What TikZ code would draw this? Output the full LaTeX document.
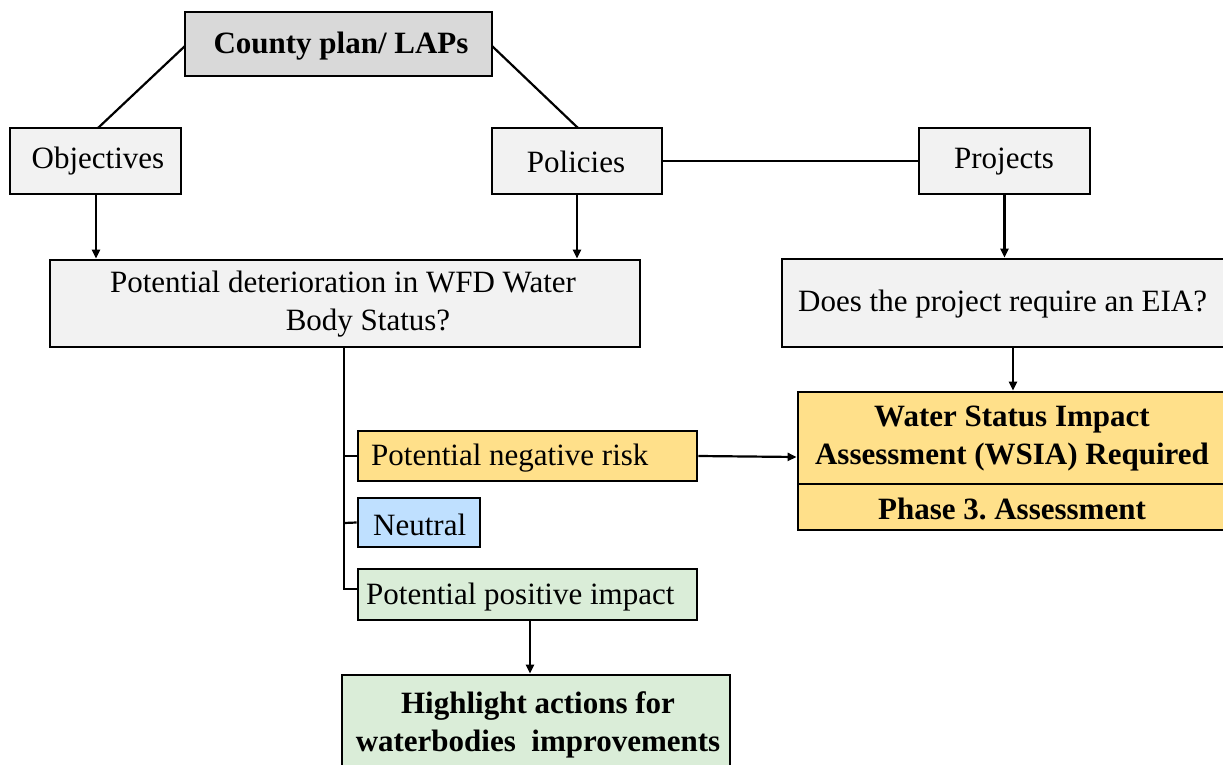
\documentclass[tikz,border=0pt]{standalone}
\usepackage{fontspec}
\setmainfont{Liberation Serif}
\usetikzlibrary{arrows.meta,positioning}
\definecolor{gtop}{HTML}{D9D9D9}
\definecolor{glight}{HTML}{F2F2F2}
\definecolor{yel}{HTML}{FFE08A}
\definecolor{blu}{HTML}{BFE0FF}
\definecolor{grn}{HTML}{DAEDD8}
\newcommand{\fs}{\fontsize{31}{38}\selectfont}
\tikzset{
  box/.style={draw=black, line width=2.8pt, inner sep=0pt, align=center},
  txt/.style={font=\fs, align=center, inner sep=0pt},
  btxt/.style={font=\bfseries\fs, align=center, inner sep=0pt},
  conn/.style={line width=2.2pt},
  arr/.style={line width=2.2pt, -{Triangle[length=9pt,width=8pt]}},
}
\newcommand{\bx}[6]{% name, x1, y1, x2, y2, style
  \node[box,#6,minimum width={#4-#2}, minimum height={#5-#3}] (#1) at ({(#2+#4)/2},{(#3+#5)/2}) {};}
\frenchspacing
\begin{document}
\begin{tikzpicture}[x=1pt,y=-1pt]
\useasboundingbox (0,0) rectangle (1223,765);
% boxes
\bx{county}{185}{12}{492}{76}{fill=gtop}
\node[btxt] (tcounty) at (341,46) {County plan/ LAPs};
\bx{obj}{10}{128}{181}{194}{fill=glight}
\node[txt] (tobj) at (98,161) {Objectives};
\bx{pol}{492}{128}{662}{194}{fill=glight}
\node[txt] (tpol) at (576,162) {Policies};
\bx{proj}{919}{128}{1090}{194}{fill=glight}
\node[txt] (tproj) at (1004,162) {Projects};
\bx{det}{50}{260}{640}{347}{fill=glight}
\node[txt] (tdet) at (343,304) {Potential deterioration in WFD Water\\\hspace*{50pt}Body Status?};
\bx{eia}{782}{259}{1226}{347}{fill=glight}
\node[txt, anchor=west] (teia) at (798,304) {Does the project require an EIA?};
\bx{wsia}{798}{392}{1226}{484}{fill=yel}
\node[btxt] (twsia) at (1012,439) {Water Status Impact\\Assessment (WSIA) Required};
\bx{phase}{798}{484}{1226}{530}{fill=yel}
\node[btxt] (tphase) at (1012,509) {Phase 3. Assessment};
\bx{neg}{358}{431}{697}{481}{fill=yel}
\node[txt, anchor=west] (tneg) at (371,458) {Potential negative risk};
\bx{neu}{358}{498}{480}{547}{fill=blu}
\node[txt, anchor=west] (tneu) at (373,525) {Neutral};
\bx{pos}{358}{569}{697}{620}{fill=grn}
\node[txt, anchor=west] (tpos) at (366,597) {Potential positive impact};
\bx{high}{342}{675}{730}{790}{fill=grn}
\node[btxt] (thigh) at (538,725) {Highlight actions for\\waterbodies\ \ improvements};
% connectors
\coordinate (cl) at (185,46);
\coordinate (cr) at (492,46);
\coordinate (objt) at (98,128);
\coordinate (polt) at (578,128);
\coordinate (br0) at (344,347);
\coordinate (br1) at (344,456);
\coordinate (br2) at (344,523);
\coordinate (br3) at (344,589);
\coordinate (posb) at (358,589);
\draw[conn] (cl) -- (objt);
\draw[conn] (cr) -- (polt);
\draw[conn] (pol.east) -- (proj.west);
\draw[arr] (obj.south -| 96,0) -- (det.north -| 96,0);
\draw[arr] (pol.south) -- (det.north -| pol.south);
\draw[arr] (proj.south) -- (eia.north -| proj.south);
\draw[arr] (eia.south -| 1013,0) -- (wsia.north -| 1013,0);
\draw[conn] (br0) -- (br3) -- (posb);
\draw[conn] (br1) -- (neg.west);
\draw[conn] (br2) -- (neu.west);
\draw[arr] (neg.east) -- (wsia.west |- 0,457);
\draw[arr] (pos.south -| 530,0) -- (high.north -| 530,0);
\end{tikzpicture}
\end{document}
